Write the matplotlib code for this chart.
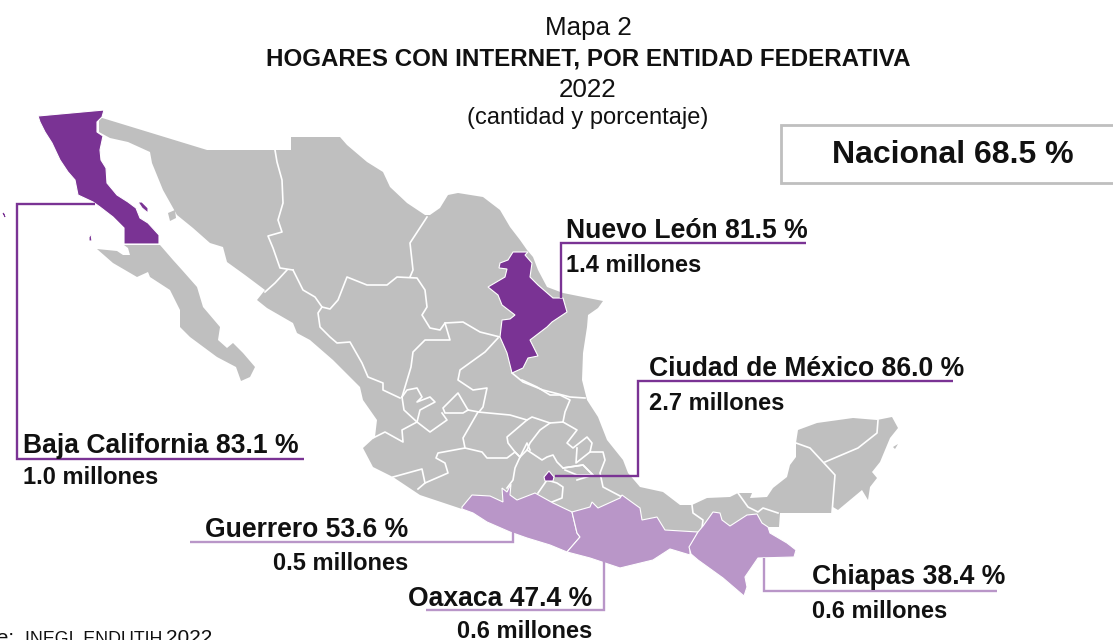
import matplotlib
matplotlib.use("Agg")
import matplotlib.pyplot as plt
from matplotlib.patches import Polygon, Rectangle

plt.rcParams['font.family'] = ['Liberation Sans', 'DejaVu Sans']

GREY = '#bfbfbf'
PURPLE = '#7a3394'
LILAC = '#b996c8'

# ---------- data ----------
entidades = ['Baja California', 'Nuevo León', 'Ciudad de México', 'Guerrero', 'Oaxaca', 'Chiapas']
porcentajes = [83.1, 81.5, 86.0, 53.6, 47.4, 38.4]
millones = [1.0, 1.4, 2.7, 0.5, 0.6, 0.6]
nacional = 68.5

# Map outlines (image pixel space)
mainland = [(99,117),(207,150),(291,150),(291,137),(340,137),(347,145),(367,162),(383,172),(390,187),(407,203),
            (425,215),(430,215),(440,208),(448,195),(458,193),(483,197),(500,210),(510,227),(520,240),(527,250),
            (533,257),(538,270),(547,287),(563,293),(583,297),(603,301),(598,308),(588,315),(587,327),(583,353),
            (582,380),(587,400),(598,417),(607,440),(623,460),(628,473),(640,487),(663,492),(680,505),(692,505),
            (707,498),(730,497),(738,493),(752,493),(750,498),(767,497),(773,488),(787,477),(790,465),(796,457),
            (796,443),(798,430),(817,423),(853,418),(877,420),(892,417),(898,428),(890,438),(880,462),(872,472),
            (877,478),(870,487),(868,500),(862,490),(850,500),(838,510),(833,507),(832,513),(780,513),(779,527),
            (768,527),(740,540),(650,530),(560,525),(480,510),(462,509),(420,495),(393,477),(373,467),(363,448),
            (375,437),(377,420),(363,400),(360,387),(333,360),(310,340),(297,333),(293,323),(267,308),(257,300),
            (265,290),(245,275),(227,262),(223,247),(210,243),(193,228),(177,215),(163,190),(152,163),(150,152),
            (128,142),(110,138),(99,132)]
bcs = [(97,249),(117,251),(123,255),(130,255),(128,248),(124,245),(160,245),(173,260),(182,270),(197,287),
       (203,307),(220,327),(218,340),(227,348),(233,343),(243,353),(255,367),(250,377),(241,381),(236,367),
       (217,357),(190,337),(180,327),(180,310),(170,290),(150,277),(148,272),(137,277),(113,263)]
tiburon = [(168,213),(175,210),(176,218),(170,221)]
cozumel = [(893,447),(898,444),(895,449)]

baja_california = [(38,116),(104,110),(102,117),(97,122),(97,132),(103,136),(100,150),(101,160),(106,168),(107,183),
                   (117,195),(128,202),(136,208),(140,218),(148,223),(159,235),(159,244),(124,244),(124,228),
                   (113,217),(100,207),(93,202),(78,195),(75,180),(68,172),(60,160),(52,143),(45,132),(40,122)]
bc_island1 = [(138,202),(142,202),(148,208),(148,213),(142,208)]
bc_island2 = [(89,237),(91,234),(92,241),(89,241)]
bc_island3 = [(3,213),(5,217),(4,214)]
nuevo_leon = [(528,252),(513,252),(508,260),(500,263),(499,268),(507,269),(505,277),(488,287),(498,295),(502,305),
              (515,315),(510,319),(502,320),(500,337),(507,353),(512,373),(523,368),(528,358),(538,356),(530,340),
              (547,327),(552,322),(567,312),(563,298),(553,298),(538,285),(530,277),(532,263),(525,255)]
cdmx = [(544,477),(549,471),(554,477),(553,481),(545,481)]
guerrero = [(462,507),(472,495),(490,496),(503,502),(502,488),(507,492),(511,484),(510,495),(517,500),(535,493),
            (553,503),(572,512),(577,533),(580,537),(567,552),(550,545),(527,538),(510,532),(487,522),(473,513),(462,509)]
oaxaca = [(572,512),(590,507),(592,502),(598,508),(620,498),(622,495),(633,503),(640,508),(642,520),(657,517),
          (665,530),(698,532),(690,547),(690,555),(670,549),(653,560),(620,568),(590,558),(567,552),(580,537),(577,533)]
chiapas = [(698,532),(703,526),(713,512),(720,513),(722,520),(730,526),(747,515),(757,514),(762,523),(768,527),
           (770,533),(787,543),(796,550),(794,557),(758,558),(745,577),(747,587),(744,596),(723,578),(698,560),
           (691,554),(689,547)]

borders = [
    [(275,150),(277,162),(282,180),(283,203),(278,220),(282,232),(268,236),(273,248),(280,268),(293,270)],
    [(287,270),(275,283),(265,292)],
    [(293,270),(303,290),(315,297),(322,307),(318,313),(320,327),(330,337),(337,343),(350,342),(362,363),(368,377),(383,383),(383,390),(400,398)],
    [(322,307),(330,309),(338,300),(347,277),(367,285),(387,285),(397,277),(417,278),(425,290),(427,307),(422,315),(430,328),(440,330),(445,323),(463,322),(480,332),(500,337)],
    [(427,217),(410,243),(413,270),(410,277)],
    [(445,323),(450,340),(425,340),(413,352),(411,367),(405,387),(402,397)],
    [(498,338),(485,352),(460,370),(458,380),(473,390),(487,388),(483,407),(479,412),(468,410)],
    [(468,410),(458,393),(443,408),(445,413),(463,413),(468,410)],
    [(512,373),(523,382),(543,390),(570,397),(585,398)],
    [(402,397),(404,410),(417,422),(402,430),(403,442),(385,432),(373,438)],
    [(417,422),(430,432),(447,420),(442,413)],
    [(402,397),(407,390),(417,388),(422,397),(417,402),(430,397),(435,402),(420,410),(417,422)],
    [(393,477),(422,469),(425,483),(418,489)],
    [(425,483),(448,473),(445,463),(436,458),(438,453),(465,448),(482,452),(487,458),(507,458),(515,452),(520,457)],
    [(465,448),(463,438),(478,412),(510,415),(527,420),(532,417),(550,423),(563,422),(565,412),(570,400),(560,395),(550,395),(537,387),(522,380)],
    [(527,420),(507,437),(508,443),(515,452),(520,457),(527,443),(530,450)],
    [(550,423),(540,430),(530,443),(527,450),(520,457)],
    [(527,450),(542,460),(547,457),(553,455),(557,462),(563,468),(583,465),(593,475),(577,480)],
    [(520,457),(515,468),(513,480),(507,488)],
    [(538,493),(547,480),(557,483),(563,487),(562,498),(552,502)],
    [(563,422),(577,430),(567,443),(573,448),(587,437),(592,443),(590,452),(603,452),(605,460),(600,473),(603,487),(622,497)],
    [(577,448),(576,463),(590,452)],
    [(563,468),(583,465),(593,475),(577,475),(565,470)],
    [(692,505),(693,513),(703,520),(702,528)],
    [(738,493),(748,507),(758,512),(763,508),(778,513)],
    [(796,443),(810,448),(823,462),(835,475),(833,500),(832,513)],
    [(878,420),(877,433),(858,448),(825,462)],
]

# ---------- figure ----------
fig = plt.figure(figsize=(11.13, 6.4), dpi=100)
ax = fig.add_axes([0, 0, 1, 1])
ax.set_xlim(0, 1113)
ax.set_ylim(640, 0)
ax.axis('off')

for shape in [mainland, bcs, tiburon, cozumel]:
    ax.add_patch(Polygon(shape, closed=True, facecolor=GREY, edgecolor='none', zorder=1))
for line in borders:
    xs, ys = zip(*line)
    ax.plot(xs, ys, color='white', lw=1.2, zorder=2, solid_joinstyle='round')
for shape, colour in [(baja_california, PURPLE), (bc_island1, PURPLE), (bc_island2, PURPLE), (bc_island3, PURPLE),
                      (nuevo_leon, PURPLE), (cdmx, PURPLE), (guerrero, LILAC), (oaxaca, LILAC), (chiapas, LILAC)]:
    ax.add_patch(Polygon(shape, closed=True, facecolor=colour, edgecolor='white', lw=0.8, zorder=3))
ax.add_patch(Polygon(bc_island3, closed=True, facecolor=PURPLE, edgecolor=PURPLE, lw=0.6, zorder=3))

# leader lines
leaders = [
    ([95, 16.5, 16.5, 304], [203.5, 203.5, 459, 459], PURPLE),
    ([561, 561, 806], [298, 243, 243], PURPLE),
    ([555, 637.5, 637.5, 953], [476, 476, 381, 381], PURPLE),
    ([513, 513, 190], [532, 541.5, 541.5], LILAC),
    ([604, 604, 426], [560, 609.5, 609.5], LILAC),
    ([764, 764, 997], [558, 590.5, 590.5], LILAC),
]
for xs, ys, c in leaders:
    ax.plot(xs, ys, color=c, lw=1.7, zorder=4, solid_joinstyle='miter', solid_capstyle='butt')

# labels
name_pos = [(23, 446, 'left'), (566, 231, 'left'), (649, 369, 'left'), (408, 530, 'right'), (592, 599, 'right'), (1005, 577, 'right')]
sub_pos = [(23, 478, 'left'), (566, 265, 'left'), (649, 403, 'left'), (408, 563, 'right'), (592, 632, 'right'), (947, 611, 'right')]
for e, p, m, (x1, y1, h1), (x2, y2, h2) in zip(entidades, porcentajes, millones, name_pos, sub_pos):
    ax.text(x1, y1, f'{e} {p:.1f} %', fontsize=19.1, fontweight='bold', color='#111111', ha=h1, va='center', zorder=5)
    ax.text(x2, y2, f'{m:.1f} millones', fontsize=17, fontweight='bold', color='#111111', ha=h2, va='center', zorder=5)

# title
ax.text(588, 28, 'Mapa 2', fontsize=18.7, ha='center', va='center', color='#111111')
ax.text(588, 59, 'HOGARES CON INTERNET, POR ENTIDAD FEDERATIVA', fontsize=17.4, fontweight='bold', ha='center', va='center', color='#111111')
ax.text(588, 90, '2022', fontsize=18.7, ha='center', va='center', color='#111111')
ax.text(588, 118, '(cantidad y porcentaje)', fontsize=17, ha='center', va='center', color='#111111')

# national box
ax.add_patch(Rectangle((780.5, 124.5), 340, 58, facecolor='white', edgecolor=GREY, lw=2, zorder=4))
ax.text(953, 155, f'Nacional {nacional} %', fontsize=23, fontweight='bold', ha='center', va='center', color='#111111', zorder=5)

# source (runs off the canvas, as in the reference)
ax.text(212, 644, '2022', fontsize=15, ha='right', va='baseline', color='#111111')
ax.text(162, 644, 'INEGI, ENDUTIH', fontsize=12.8, ha='right', va='baseline', color='#111111')
ax.text(14, 644, 'Fuente:', fontsize=15, ha='right', va='baseline', color='#111111')

fig.savefig('out.png', dpi=100)
